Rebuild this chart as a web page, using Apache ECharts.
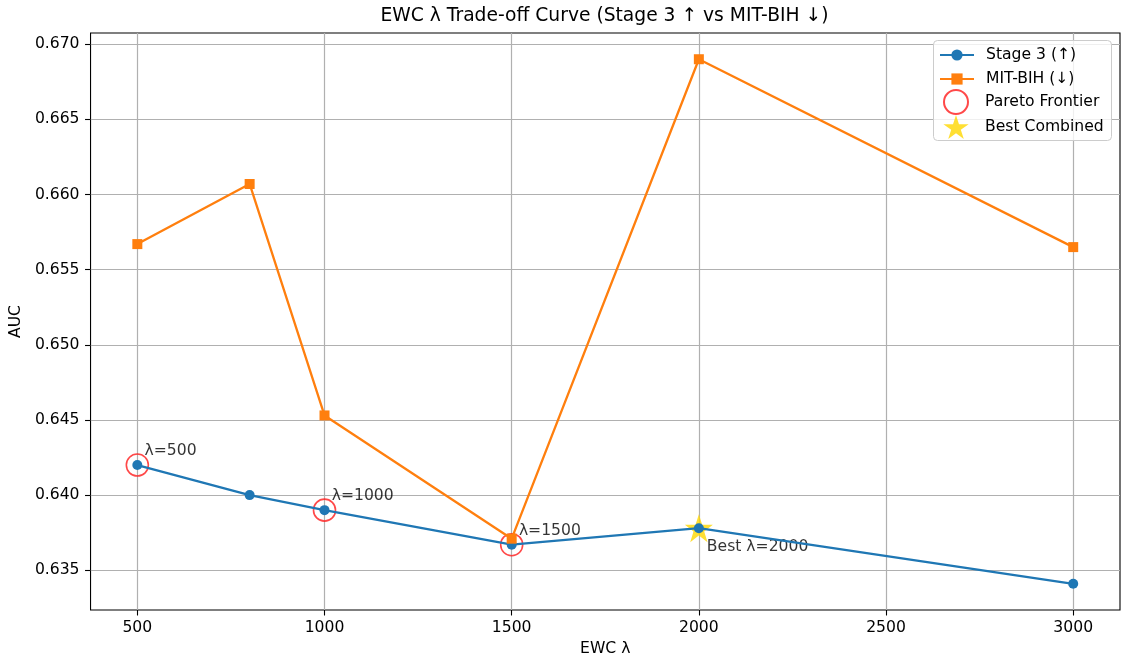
<!DOCTYPE html>
<html>
<head>
<meta charset="utf-8">
<script src="https://cdn.jsdelivr.net/npm/echarts@6/dist/echarts.min.js"></script>
<style>
  html, body { margin: 0; padding: 0; background: #fff; }
  #chart { width: 1123px; height: 663px; }
</style>
</head>
<body>
<div id="chart"></div>
<script>
// EWC regularisation strength and resulting AUC on each benchmark
const lambdas = [500, 800, 1000, 1500, 2000, 3000];
const stage3Auc = [0.6420, 0.6400, 0.6390, 0.6367, 0.6378, 0.6341];
const mitbihAuc = [0.6567, 0.6607, 0.6453, 0.6371, 0.6690, 0.6565];
const paretoLambdas = [500, 1000, 1500];
const bestLambda = 2000;

const xTicks = [500, 1000, 1500, 2000, 2500, 3000];
const yTicks = [0.635, 0.640, 0.645, 0.650, 0.655, 0.660, 0.665, 0.670];

const FONT = 'DejaVu Sans';
const FS = 15.6;

// padded axis extents (5% margin around the data)
const xSpan = Math.max(...lambdas) - Math.min(...lambdas);
const xMin = Math.min(...lambdas) - 0.05 * xSpan;
const xMax = Math.max(...lambdas) + 0.05 * xSpan;
const allY = stage3Auc.concat(mitbihAuc);
const ySpan = Math.max(...allY) - Math.min(...allY);
const yMin = Math.min(...allY) - 0.05 * ySpan;
const yMax = Math.max(...allY) + 0.05 * ySpan;

const stage3Pts = lambdas.map((l, i) => [l, stage3Auc[i]]);
const mitbihPts = lambdas.map((l, i) => [l, mitbihAuc[i]]);
const paretoPts = paretoLambdas.map(l => [l, stage3Auc[lambdas.indexOf(l)]]);
const bestPts = [[bestLambda, stage3Auc[lambdas.indexOf(bestLambda)]]];

// five-pointed star outline
function starPath() {
  const pts = [];
  for (let i = 0; i < 10; i++) {
    const r = i % 2 === 0 ? 1 : 0.381966;
    const a = -Math.PI / 2 + i * Math.PI / 5;
    pts.push((r * Math.cos(a)).toFixed(4) + ',' + (r * Math.sin(a)).toFixed(4));
  }
  return 'path://M' + pts.join('L') + 'Z';
}

const chart = echarts.init(document.getElementById('chart'), null, { renderer: 'canvas' });

const axisCommon = {
  axisLine: { show: false },
  axisTick: { show: true, inside: false, length: 5.5, lineStyle: { color: '#000', width: 1.1 } },
  splitLine: { show: true, lineStyle: { color: '#b0b0b0', width: 1.2 } },
  axisLabel: { color: '#000', fontFamily: FONT, fontSize: FS },
  nameTextStyle: { color: '#000', fontFamily: FONT, fontSize: FS }
};

const legendText = { color: '#000', fontFamily: FONT, fontSize: FS, padding: [0, 0, 0, 7] };

chart.setOption({
  animation: false,
  backgroundColor: '#fff',
  graphic: [
    {
      type: 'text',
      x: 604.5, y: 16,
      style: {
        text: 'EWC λ Trade-off Curve (Stage 3 ↑ vs MIT-BIH ↓)',
        fontFamily: FONT, fontSize: 18.7, fill: '#000',
        align: 'center', verticalAlign: 'middle'
      }
    },
    {
      // legend frame
      type: 'rect',
      z: 90,
      shape: { x: 933.5, y: 40.5, width: 178, height: 100, r: 4 },
      style: { fill: 'rgba(255,255,255,0.8)', stroke: '#cccccc', lineWidth: 1 }
    }
  ],
  grid: {
    left: 89, right: 3, top: 33, bottom: 53,
    show: true, borderColor: '#000', borderWidth: 1.1, backgroundColor: 'transparent'
  },
  xAxis: Object.assign({}, axisCommon, {
    type: 'value',
    min: xMin, max: xMax,
    name: 'EWC λ', nameLocation: 'middle', nameGap: 31,
    axisTick: Object.assign({}, axisCommon.axisTick, { customValues: xTicks }),
    axisLabel: Object.assign({}, axisCommon.axisLabel, {
      customValues: xTicks, margin: 10,
      formatter: v => String(v)
    })
  }),
  yAxis: Object.assign({}, axisCommon, {
    type: 'value',
    min: yMin, max: yMax,
    name: 'AUC', nameLocation: 'middle', nameGap: 60,
    axisTick: Object.assign({}, axisCommon.axisTick, { customValues: yTicks }),
    axisLabel: Object.assign({}, axisCommon.axisLabel, {
      customValues: yTicks, margin: 11,
      formatter: v => v.toFixed(3)
    })
  }),
  legend: [
    {
      orient: 'vertical',
      left: 939, top: 47,
      padding: 0,
      z: 100,
      itemWidth: 34, itemHeight: 14, itemGap: 8,
      textStyle: legendText,
      data: ['Stage 3 (↑)', 'MIT-BIH (↓)']
    },
    {
      orient: 'vertical',
      left: 943, top: 89,
      padding: 0,
      z: 100,
      itemWidth: 34, itemHeight: 24, itemGap: 0,
      textStyle: legendText,
      data: ['Pareto Frontier', 'Best Combined']
    }
  ],
  series: [
    {
      name: 'Pareto Frontier',
      type: 'scatter',
      z: 1,
      data: paretoPts,
      symbol: 'circle',
      symbolSize: 22,
      itemStyle: { color: 'rgba(0,0,0,0)', borderColor: '#ff1a1a', borderWidth: 1.6 },
      label: {
        show: true,
        position: [19, -2],
        align: 'left', verticalAlign: 'middle',
        formatter: p => 'λ=' + p.value[0],
        color: '#000', fontFamily: FONT, fontSize: FS
      }
    },
    {
      name: 'Best Combined',
      type: 'scatter',
      z: 1,
      data: bestPts,
      symbol: starPath(),
      symbolSize: 28,
      itemStyle: { color: '#ffd700' },
      label: {
        show: true,
        position: [22, 33],
        align: 'left', verticalAlign: 'middle',
        formatter: p => 'Best λ=' + p.value[0],
        color: '#000', fontFamily: FONT, fontSize: FS
      }
    },
    {
      name: 'Stage 3 (↑)',
      type: 'line',
      z: 3,
      data: stage3Pts,
      symbol: 'circle',
      symbolSize: 10,
      showAllSymbol: true,
      lineStyle: { color: '#1f77b4', width: 2.3 },
      itemStyle: { color: '#1f77b4', borderWidth: 0 }
    },
    {
      name: 'MIT-BIH (↓)',
      type: 'line',
      z: 4,
      data: mitbihPts,
      symbol: 'rect',
      symbolSize: 10,
      showAllSymbol: true,
      lineStyle: { color: '#ff7f0e', width: 2.3 },
      itemStyle: { color: '#ff7f0e', borderWidth: 0 }
    }
  ]
});
</script>
</body>
</html>
